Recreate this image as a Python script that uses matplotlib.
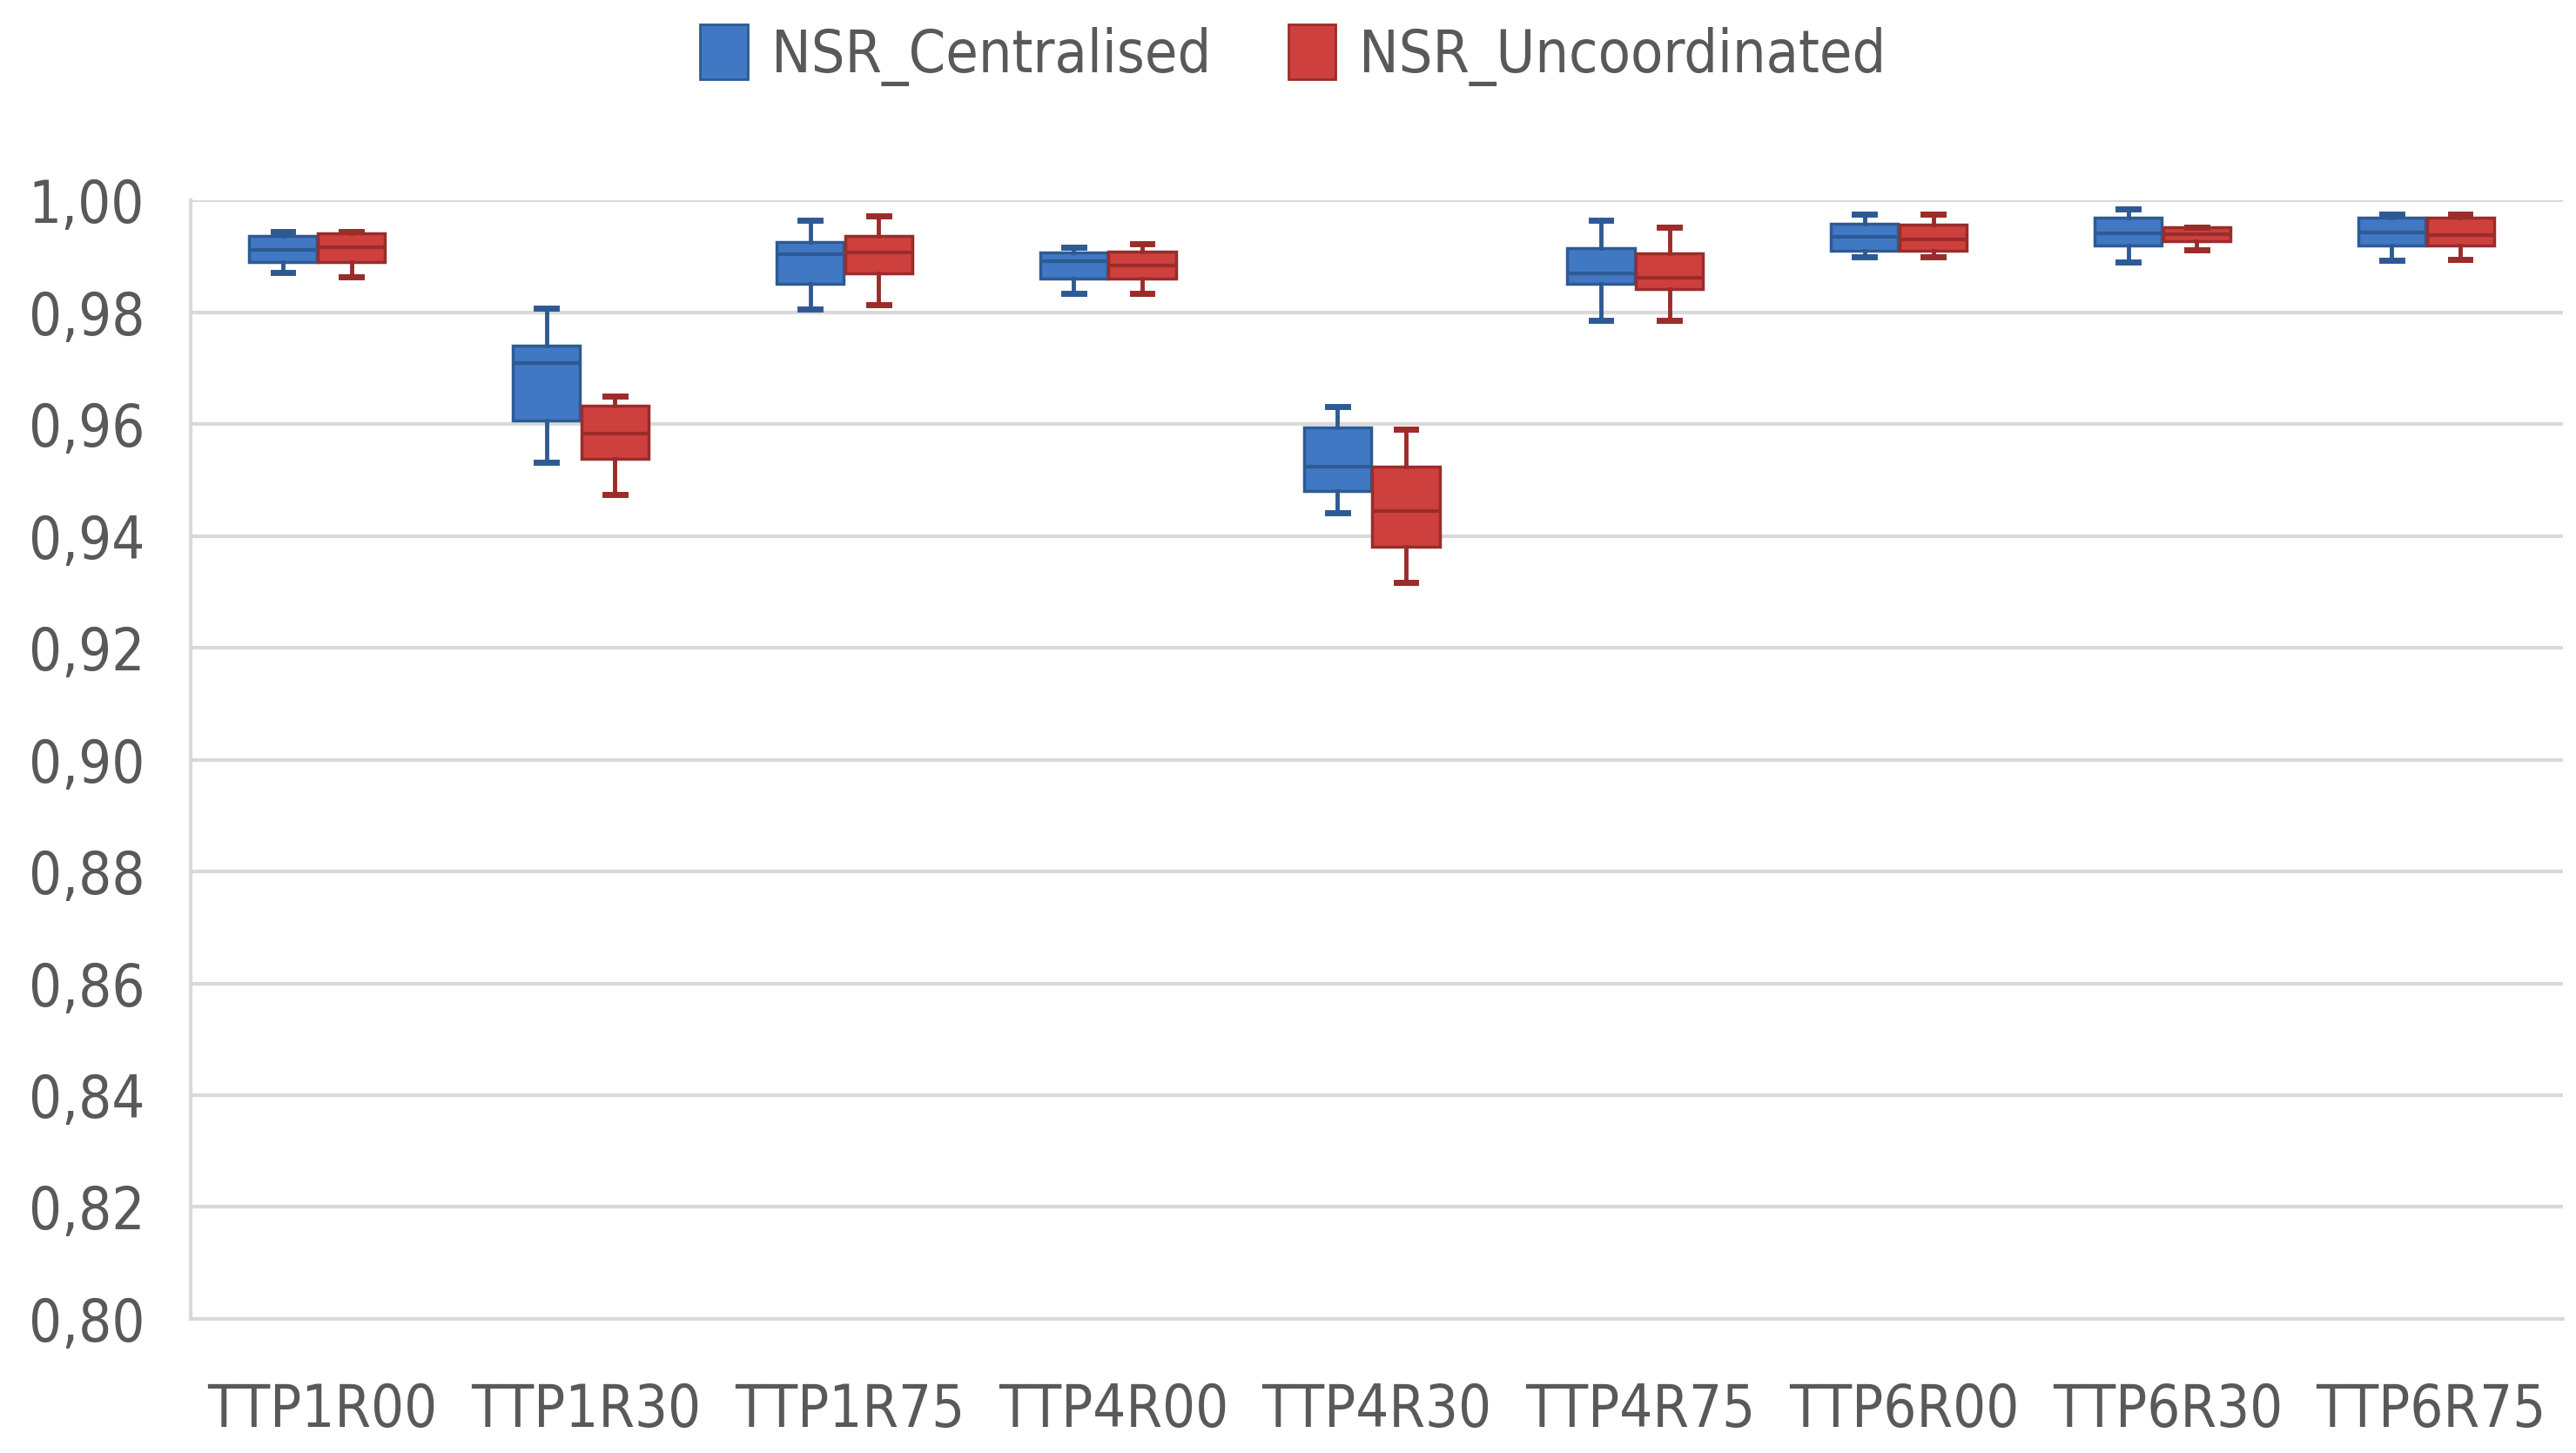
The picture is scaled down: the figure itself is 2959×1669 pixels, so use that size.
import matplotlib
matplotlib.use('Agg')
import matplotlib.pyplot as plt
from matplotlib.patches import Patch
from matplotlib.ticker import FuncFormatter

plt.rcParams['font.family'] = ['DejaVu Sans']
plt.rcParams['font.stretch'] = 'condensed'

# categories and box statistics
categories = ['TTP1R00', 'TTP1R30', 'TTP1R75', 'TTP4R00', 'TTP4R30',
              'TTP4R75', 'TTP6R00', 'TTP6R30', 'TTP6R75']

# NSR_Centralised
cen_low = [0.9872, 0.9532, 0.9806, 0.9834, 0.9442, 0.9786, 0.9900, 0.9890, 0.9893]
cen_q1 = [0.9890, 0.9606, 0.9851, 0.9861, 0.9480, 0.9851, 0.9910, 0.9919, 0.9920]
cen_med = [0.9912, 0.9710, 0.9904, 0.9891, 0.9524, 0.9870, 0.9935, 0.9941, 0.9943]
cen_q3 = [0.9936, 0.9741, 0.9926, 0.9907, 0.9594, 0.9915, 0.9958, 0.9970, 0.9969]
cen_high = [0.9945, 0.9807, 0.9964, 0.9916, 0.9631, 0.9965, 0.9975, 0.9985, 0.9975]

# NSR_Uncoordinated
unc_low = [0.9864, 0.9474, 0.9813, 0.9834, 0.9317, 0.9786, 0.9900, 0.9912, 0.9894]
unc_q1 = [0.9890, 0.9538, 0.9870, 0.9861, 0.9381, 0.9842, 0.9910, 0.9928, 0.9920]
unc_med = [0.9917, 0.9583, 0.9907, 0.9883, 0.9445, 0.9862, 0.9930, 0.9940, 0.9938]
unc_q3 = [0.9942, 0.9633, 0.9936, 0.9908, 0.9524, 0.9906, 0.9957, 0.9953, 0.9969]
unc_high = [0.9944, 0.9650, 0.9972, 0.9923, 0.9591, 0.9952, 0.9975, 0.9953, 0.9975]

series = ['NSR_Centralised', 'NSR_Uncoordinated']
fill_colors = ['#4178C3', '#CD403E']
edge_colors = ['#2E5A94', '#9A2C2A']


def make_stats(low, q1, med, q3, high):
    return [dict(whislo=a, q1=b, med=c, q3=d, whishi=e, fliers=[])
            for a, b, c, d, e in zip(low, q1, med, q3, high)]


fig = plt.figure(figsize=(29.59, 16.69), dpi=100)
ax = fig.add_axes([0.074, 0.0923, 0.921, 0.7697])

groups = [make_stats(cen_low, cen_q1, cen_med, cen_q3, cen_high),
          make_stats(unc_low, unc_q1, unc_med, unc_q3, unc_high)]
offsets = [-0.15, 0.11]
box_w = 0.255

for stats, off, fc, ec in zip(groups, offsets, fill_colors, edge_colors):
    pos = [i + 0.5 + off for i in range(len(categories))]
    ax.bxp(stats, positions=pos, widths=box_w, patch_artist=True,
           showfliers=False, capwidths=0.075,
           boxprops=dict(facecolor=fc, edgecolor=ec, linewidth=2.5),
           medianprops=dict(color=ec, linewidth=3),
           whiskerprops=dict(color=ec, linewidth=3.5),
           capprops=dict(color=ec, linewidth=5),
           manage_ticks=False, zorder=3)

ax.set_xlim(0, len(categories))
ax.set_ylim(0.80, 1.00)
ax.set_yticks([0.80 + 0.02 * k for k in range(11)])
ax.yaxis.set_major_formatter(FuncFormatter(lambda v, p: f'{v:.2f}'.replace('.', ',')))
ax.set_xticks([i + 0.5 for i in range(len(categories))])
ax.set_xticklabels(categories)

ax.grid(axis='y', color='#D9D9D9', linewidth=3, zorder=0)
ax.set_axisbelow(True)
for s in ['top', 'right']:
    ax.spines[s].set_visible(False)
for s in ['left', 'bottom']:
    ax.spines[s].set_color('#D9D9D9')
    ax.spines[s].set_linewidth(3)
ax.tick_params(axis='both', length=0, labelsize=48, labelcolor='#595959')
ax.tick_params(axis='y', pad=38)
ax.tick_params(axis='x', pad=52)

handles = [Patch(facecolor=fc, edgecolor=ec, linewidth=2) for fc, ec in zip(fill_colors, edge_colors)]
fig.legend(handles, series, loc='upper center', bbox_to_anchor=(0.502, 1.02), ncol=2,
           frameon=False, fontsize=49, labelcolor='#595959',
           handlelength=0.8, handleheight=1.05, handletextpad=0.4, columnspacing=1.3)

fig.savefig('out.png', dpi=100, facecolor='white')
